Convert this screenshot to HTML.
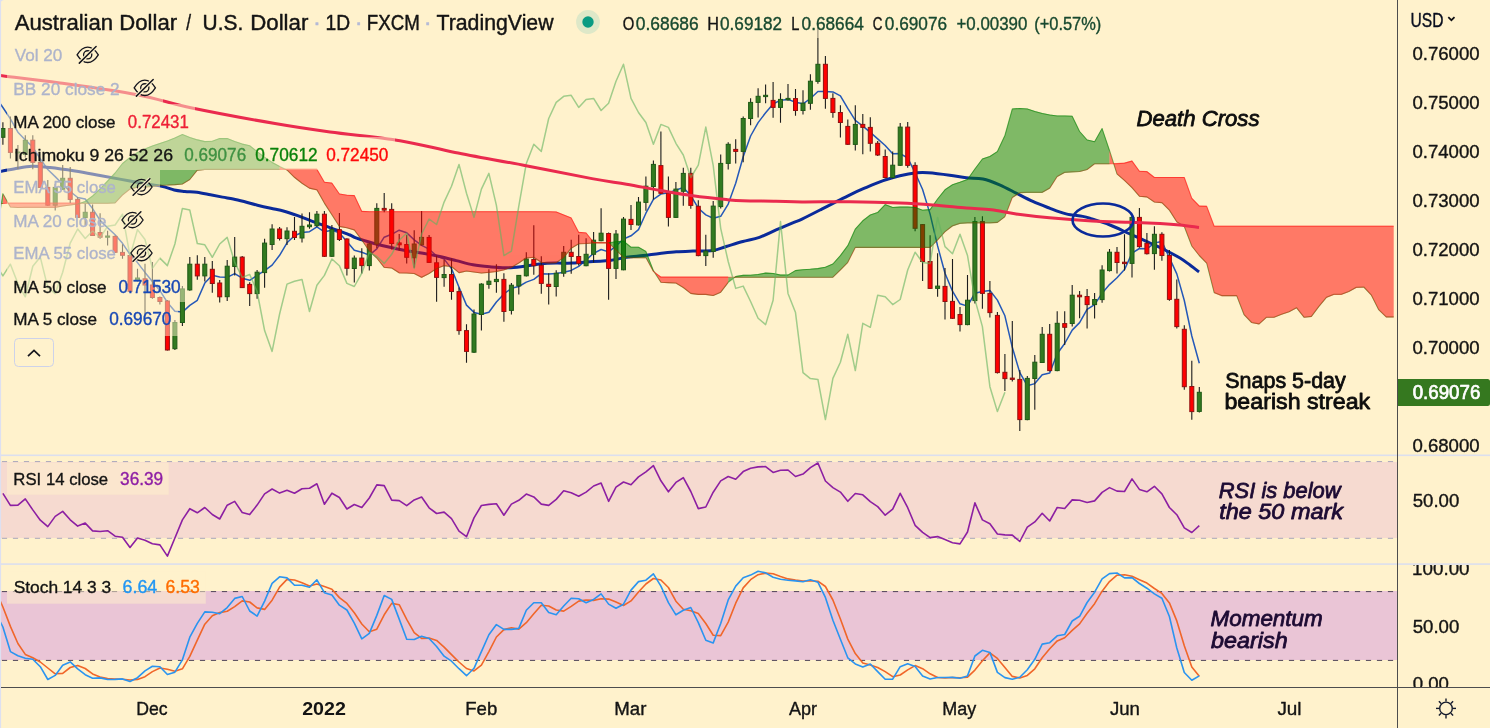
<!DOCTYPE html>
<html lang="en"><head><meta charset="utf-8"><title>AUDUSD chart</title>
<style>
html,body{margin:0;padding:0;}
body{width:1490px;height:728px;overflow:hidden;background:#fff2cc;position:relative;font-family:"Liberation Sans","DejaVu Sans",sans-serif;color:#131722;}

</style></head><body>
<svg width="1490" height="728" viewBox="0 0 1490 728" style="position:absolute;left:0;top:0">
<defs><clipPath id="cm"><rect x="0" y="0" width="1397" height="455"/></clipPath><clipPath id="cr"><rect x="0" y="456" width="1397" height="108"/></clipPath><clipPath id="cs"><rect x="0" y="565" width="1397" height="122"/></clipPath></defs>
<rect x="0" y="462" width="1397" height="76" fill="#f6dad0"/>
<line x1="0" x2="1397" y1="461.6" y2="461.6" stroke="#a9a5bb" stroke-width="1" stroke-dasharray="5.2 5.8" stroke-dashoffset="-1.9"/>
<line x1="0" x2="1397" y1="538.3" y2="538.3" stroke="#a9a5bb" stroke-width="1" stroke-dasharray="5.2 5.8" stroke-dashoffset="-1.9"/>
<rect x="0" y="591" width="1397" height="69" fill="#eac5d6"/>
<line x1="0" x2="1397" y1="591.6" y2="591.6" stroke="#4f4458" stroke-width="1" stroke-dasharray="5.2 5.8" stroke-dashoffset="-1.9"/>
<line x1="0" x2="1397" y1="660.4" y2="660.4" stroke="#4f4458" stroke-width="1" stroke-dasharray="5.2 5.8" stroke-dashoffset="-1.9"/>
<g clip-path="url(#cm)">
<polyline fill="none" stroke="#2458b8" stroke-width="1.5" stroke-linejoin="round" points="-4.6,96.8 2.9,107.5 10.4,118.8 17.9,132.2 25.3,139.9 32.8,147.1 40.3,158.9 47.8,169.5 55.2,176.6 62.7,184.2 70.2,191.5 77.7,197.5 85.2,199 92.6,208.6 100.1,220.4 107.6,227.7 115.1,234.7 122.5,243.3 130,254.4 137.5,262.6 145,272.4 152.4,281.4 159.9,290.6 167.4,302.4 174.9,311.3 182.4,312.1 189.8,305.4 197.3,300.3 204.8,283.1 212.3,275.3 219.7,276.9 227.2,277.3 234.7,273.6 242.2,278.2 249.7,280.3 257.1,275.3 264.6,270.7 272.1,265.1 279.6,255.3 287,242.8 294.5,235.8 302,232.5 309.5,231.7 316.9,226.8 324.4,231.8 331.9,230.3 339.4,232.9 346.9,241.6 354.3,250.3 361.8,252.2 369.3,255.1 376.8,248.9 384.2,237.2 391.7,234.3 399.2,230.2 406.7,232.8 414.2,239.9 421.6,245.4 429.1,249.2 436.6,255.7 444.1,259.1 451.5,268.6 459,287.3 466.5,305.1 474,312.4 481.4,314.3 488.9,312.3 496.4,302 503.9,294 511.4,288.3 518.8,286.5 526.3,282.1 533.8,279.4 541.3,273.7 548.7,274 556.2,273.6 563.7,272.2 571.2,270.4 578.7,266.4 586.1,259.9 593.6,253.3 601.1,249.5 608.6,251.9 616,246 623.5,239 631,235.8 638.5,229.6 645.9,213.2 653.4,199.3 660.9,194.1 668.4,192.7 675.9,190.1 683.3,187.5 690.8,195.7 698.3,208.2 705.8,214.9 713.2,218.3 720.7,216.3 728.2,204.1 735.7,183.3 743.2,156.7 750.6,136 758.1,122.6 765.6,112.8 773.1,104 780.5,100.2 788,99.4 795.5,102.2 803,103.8 810.4,98.5 817.9,91.5 825.4,91.5 832.9,91.9 840.4,95.8 847.8,108.4 855.3,120.4 862.8,126.2 870.3,132.4 877.7,138.9 885.2,145.5 892.7,153.7 900.2,153.6 907.7,158 915.1,172.7 922.6,189.5 930.1,214.1 937.6,245.9 945,273.2 952.5,291.2 960,303.8 967.5,306.1 974.9,293.2 982.4,291.6 989.9,290.5 997.4,300.1 1004.9,315.8 1012.3,347.3 1019.8,372.6 1027.3,385.7 1034.8,383.6 1042.2,374.8 1049.7,373 1057.2,353.8 1064.7,343.5 1072.2,330.1 1079.6,322.6 1087.1,309.4 1094.6,304.7 1102.1,293.2 1109.5,284.6 1117,277.8 1124.5,269.6 1132,253.1 1139.4,248.5 1146.9,248.8 1154.4,243.1 1161.9,241.5 1169.4,257.9 1176.8,273.9 1184.3,300.5 1191.8,336 1199.3,363.3"/>
<path fill="none" stroke="#0a2a9a" stroke-width="3" stroke-linecap="butt" d="M0,171.5C2.7,171 10.7,169.4 16,168.5C21.3,167.6 26.3,166.5 32,166.3C37.7,166.1 42.8,166.7 50,167.5C57.2,168.3 66.7,169.7 75,171C83.3,172.3 90.8,173.8 100,175.5C109.2,177.2 119.9,179.2 130,181C140.1,182.8 153.3,184.6 160.7,186.1C168.1,187.6 170.2,189.1 174.2,190C178.2,190.9 181.1,191 184.9,191.4C188.7,191.8 192.8,191.7 197,192.3C201.2,192.9 206.2,194 210.4,194.8C214.7,195.6 218.7,196.4 222.5,197.1C226.3,197.8 229.6,198.3 233.2,199C236.8,199.7 240,200.5 244,201.5C248,202.5 252.9,204.1 257.4,205.2C261.9,206.3 266.3,207.3 270.8,208.3C275.3,209.3 279.7,210 284.2,211.2C288.7,212.4 293.2,214 297.7,215.6C302.2,217.2 306.6,219.1 311.1,220.8C315.6,222.5 320,224.1 324.5,225.7C329,227.3 333.6,228.8 337.9,230.4C342.1,232 346.9,233.7 350,235C353.1,236.3 352.7,236.8 356.6,238.2C360.5,239.6 367.6,241.7 373.2,243.2C378.8,244.7 384.3,246.1 389.9,247.3C395.4,248.6 401,249.7 406.5,250.7C412,251.7 417.6,252.2 423.1,253.2C428.6,254.2 434.2,255.3 439.7,256.5C445.2,257.7 450.8,259.2 456.3,260.6C461.9,262 467.4,263.8 473,264.8C478.6,265.8 484.1,266.3 489.6,266.8C495.1,267.3 500.7,267.9 506.2,267.8C511.7,267.8 517.3,267.1 522.8,266.5C528.3,265.9 533.8,264.6 539.4,264C545,263.4 550.5,263.2 556.1,263.1C561.7,263 566.5,263.4 572.7,263.1C578.9,262.8 587,261.8 593.2,261.4C599.4,261 604.4,261.3 609.9,260.6C615.4,259.9 621,258.1 626.5,257.3C632,256.5 637.6,256.2 643.1,255.6C648.6,255 654.2,254.1 659.7,253.5C665.2,252.9 670.8,252.2 676.3,251.8C681.8,251.4 686.9,251.3 693,251.1C699.1,250.9 707.4,251.4 712.9,250.6C718.4,249.8 721.2,248 726.2,246.5C731.2,245 737.3,243 742.8,241.5C748.3,240 753.8,239.2 759.4,237.3C765,235.4 770.5,232.3 776.1,229.9C781.7,227.5 788.4,224.7 792.7,222.9C797,221.1 797.5,221.2 802,219.1C806.5,216.9 812,214.1 820,210C828,205.9 842.2,198.6 850,194.8C857.8,191 861.1,189.7 866.6,187.3C872.1,184.9 877.7,182.5 883.2,180.6C888.8,178.7 894.4,177 899.9,175.7C905.4,174.4 911.8,173.3 916.5,172.8C921.2,172.3 922.6,172.3 928.1,172.7C933.6,173.1 943.3,174.3 949.7,175.2C956.1,176 960.8,177.2 966.3,177.8C971.8,178.4 977.5,177.8 983,179C988.5,180.2 994.1,182.5 999.6,184.8C1005.1,187.2 1010.7,190.3 1016.2,193.1C1021.7,195.9 1027.2,198.9 1032.8,201.4C1038.3,203.9 1044,206 1049.5,208.1C1055,210.2 1060.6,212.5 1066.1,213.9C1071.6,215.3 1078.4,215.6 1082.7,216.4C1087,217.2 1087.5,217.5 1092,218.9C1096.5,220.3 1103.7,222.5 1110,225C1116.3,227.5 1123.3,231 1130,234C1136.7,237 1144.2,240.3 1150,243C1155.8,245.7 1160,247.5 1165,250C1170,252.5 1175.8,255.5 1180,258C1184.2,260.5 1186.8,262.7 1190,265C1193.2,267.3 1197.5,270.8 1199,272"/>
<path d="M2.9,122.2V144.8M10.4,116.5V158.5M17.9,145V169.3M25.3,135.2V157.5M32.8,135.2V169.3M40.3,161V188M47.8,180V206M55.2,184V210.6M62.7,165V190M70.2,166.9V203M77.7,197.3V218M85.2,203.8V225.3M92.6,204.5V236M100.1,213.2V238.8M107.6,230.8V245.5M115.1,235.5V253M122.5,244.2V258.7M130,254.5V292M137.5,268.8V281.5M145,263.8V316M152.4,262V298.8M159.9,296.5V304.5M167.4,300V350.5M174.9,320V350M182.4,286V326M189.8,256.9V290.7M197.3,255.2V279.7M204.8,256.9V281.6M212.3,261V292.8M219.7,280.1V302.5M227.2,260V301M234.7,237V275.6M242.2,256V288M249.7,282.2V306M257.1,270V298.8M264.6,238.8V287.8M272.1,224.3V250M279.6,227V240.5M287,227.3V245M294.5,217.1V240M302,213.5V242.5M309.5,212.2V228.8M316.9,211.1V227M324.4,211.1V257M331.9,225V257M339.4,213.1V241M346.9,238.2V275.5M354.3,255.4V282.6M361.8,248.2V273.4M369.3,242.4V270.6M376.8,203.2V248.2M384.2,193V212.3M391.7,203.2V249.5M399.2,234V250.7M406.7,234.9V263.5M414.2,230.2V267.8M421.6,211.1V245.5M429.1,234.9V263M436.6,255.7V301.7M444.1,259.8V286.7M451.5,258.5V299.7M459,287.6V334.8M466.5,324.3V362.7M474,309.4V353M481.4,283.3V330.6M488.9,269.2V288.7M496.4,264.3V292.7M503.9,273.2V321.8M511.4,283.1V314.5M518.8,275V294.6M526.3,252.3V276.5M533.8,225.2V274.7M541.3,256.2V293.8M548.7,273.2V304.6M556.2,270.2V296.6M563.7,246.1V276.7M571.2,239.8V273.8M578.7,234.8V265.4M586.1,238.2V266.2M593.6,232V262.6M601.1,208.3V241.2M608.6,232.5V299.8M616,229.9V278.9M623.5,216.9V270.3M631,204.9V229.9M638.5,197.1V225.4M645.9,176.4V210.7M653.4,160.6V199.6M660.9,131.5V194M668.4,176.4V226.5M675.9,182.1V218M683.3,167.7V205.8M690.8,167.7V208.8M698.3,200.3V256.2M705.8,234.8V265.9M713.2,201.1V257.8M720.7,154.4V208.6M728.2,142.3V169.4M735.7,139.3V163.4M743.2,116.5V162.2M750.6,98.3V125.3M758.1,88.3V117.4M765.6,84.5V103.2M773.1,82.1V117.7M780.5,93.3V122.7M788,84.1V100.7M795.5,89.1V115.8M803,90.2V114.6M810.4,74.2V109.7M817.9,24V83.8M825.4,56V108.8M832.9,93.2V117.7M840.4,105.2V137.6M847.8,119.4V145M855.3,105.2V150.5M862.8,114.1V154.2M870.3,117.2V151.4M877.7,141V156M885.2,149.5V178.5M892.7,151.4V178.5M900.2,122.9V166M907.7,122.1V167.7M915.1,162.3V231.2M922.6,224V280.9M930.1,235.2V289M937.6,253.2V296.7M945,268.1V319.6M952.5,259V319M960,307.1V331.6M967.5,275.1V325.2M974.9,217.1V303.4M982.4,216.3V308.8M989.9,281.1V317.6M997.4,312.1V373.4M1004.9,354V390.9M1012.3,321.1V381.6M1019.8,370V430.9M1027.3,376.1V420.2M1034.8,355V409.8M1042.2,326.9V363M1049.7,324.1V371.5M1057.2,311.3V371.2M1064.7,311.2V345M1072.2,285V326.5M1079.6,291V318.3M1087.1,289.1V328.6M1094.6,293.1V318.5M1102.1,265.2V302.7M1109.5,249V271.5M1117,247.1V273.4M1124.5,234.3V270.4M1132,215.4V277.4M1139.4,208V247.8M1146.9,233V254.6M1154.4,226.2V269.7M1161.9,232.2V260.7M1169.4,250V300.7M1176.8,279.5V328.4M1184.3,325.3V389.7M1191.8,360.7V419.7M1199.3,387.1V412.5" stroke="#1c1c1c" stroke-width="1.1" fill="none"/>
<rect x="0.9" y="128.5" width="4" height="8.8" fill="#327a20" stroke="#1f5a16" stroke-width="1"/>
<rect x="8.4" y="128.5" width="4" height="23.9" fill="#ff0000" stroke="#8f1111" stroke-width="1"/>
<rect x="15.9" y="152" width="4" height="1" fill="#327a20" stroke="#1f5a16" stroke-width="1"/>
<rect x="23.3" y="140.3" width="4" height="14.2" fill="#327a20" stroke="#1f5a16" stroke-width="1"/>
<rect x="30.8" y="140.2" width="4" height="22.2" fill="#ff0000" stroke="#8f1111" stroke-width="1"/>
<rect x="38.3" y="162.5" width="4" height="24.9" fill="#ff0000" stroke="#8f1111" stroke-width="1"/>
<rect x="45.8" y="187.4" width="4" height="17.8" fill="#ff0000" stroke="#8f1111" stroke-width="1"/>
<rect x="53.2" y="187.4" width="4" height="17.8" fill="#327a20" stroke="#1f5a16" stroke-width="1"/>
<rect x="60.7" y="178.3" width="4" height="10.9" fill="#327a20" stroke="#1f5a16" stroke-width="1"/>
<rect x="68.2" y="178.3" width="4" height="21.1" fill="#ff0000" stroke="#8f1111" stroke-width="1"/>
<rect x="75.7" y="199.4" width="4" height="18" fill="#ff0000" stroke="#8f1111" stroke-width="1"/>
<rect x="83.2" y="212.3" width="4" height="5.3" fill="#327a20" stroke="#1f5a16" stroke-width="1"/>
<rect x="90.6" y="212.3" width="4" height="23.2" fill="#ff0000" stroke="#8f1111" stroke-width="1"/>
<rect x="98.1" y="232.5" width="4" height="4.7" fill="#ff0000" stroke="#8f1111" stroke-width="1"/>
<rect x="105.6" y="236" width="4" height="1.2" fill="#327a20" stroke="#1f5a16" stroke-width="1"/>
<rect x="113.1" y="236.4" width="4" height="15.9" fill="#ff0000" stroke="#8f1111" stroke-width="1"/>
<rect x="120.5" y="252.4" width="4" height="2.9" fill="#ff0000" stroke="#8f1111" stroke-width="1"/>
<rect x="128" y="255.5" width="4" height="35.8" fill="#ff0000" stroke="#8f1111" stroke-width="1"/>
<rect x="135.5" y="278" width="4" height="2.5" fill="#327a20" stroke="#1f5a16" stroke-width="1"/>
<rect x="143" y="278.8" width="4" height="6.2" fill="#ff0000" stroke="#8f1111" stroke-width="1"/>
<rect x="150.4" y="285" width="4" height="12.5" fill="#ff0000" stroke="#8f1111" stroke-width="1"/>
<rect x="157.9" y="297.5" width="4" height="4" fill="#ff0000" stroke="#8f1111" stroke-width="1"/>
<rect x="165.4" y="301" width="4" height="49" fill="#ff0000" stroke="#8f1111" stroke-width="1"/>
<rect x="172.9" y="322.5" width="4" height="26.2" fill="#327a20" stroke="#1f5a16" stroke-width="1"/>
<rect x="180.4" y="288.9" width="4" height="33.6" fill="#327a20" stroke="#1f5a16" stroke-width="1"/>
<rect x="187.8" y="264.2" width="4" height="25.7" fill="#327a20" stroke="#1f5a16" stroke-width="1"/>
<rect x="195.3" y="264.2" width="4" height="11.7" fill="#ff0000" stroke="#8f1111" stroke-width="1"/>
<rect x="202.8" y="264.2" width="4" height="11.7" fill="#327a20" stroke="#1f5a16" stroke-width="1"/>
<rect x="210.3" y="269.3" width="4" height="14.2" fill="#ff0000" stroke="#8f1111" stroke-width="1"/>
<rect x="217.7" y="283" width="4" height="13.8" fill="#ff0000" stroke="#8f1111" stroke-width="1"/>
<rect x="225.2" y="266.2" width="4" height="30.5" fill="#327a20" stroke="#1f5a16" stroke-width="1"/>
<rect x="232.7" y="257.1" width="4" height="9.4" fill="#327a20" stroke="#1f5a16" stroke-width="1"/>
<rect x="240.2" y="257.1" width="4" height="30.5" fill="#ff0000" stroke="#8f1111" stroke-width="1"/>
<rect x="247.7" y="284.4" width="4" height="9.2" fill="#ff0000" stroke="#8f1111" stroke-width="1"/>
<rect x="255.1" y="272.2" width="4" height="21.4" fill="#327a20" stroke="#1f5a16" stroke-width="1"/>
<rect x="262.6" y="243.1" width="4" height="29.5" fill="#327a20" stroke="#1f5a16" stroke-width="1"/>
<rect x="270.1" y="229" width="4" height="15.5" fill="#327a20" stroke="#1f5a16" stroke-width="1"/>
<rect x="277.6" y="229" width="4" height="9.5" fill="#ff0000" stroke="#8f1111" stroke-width="1"/>
<rect x="285" y="231" width="4" height="7.7" fill="#327a20" stroke="#1f5a16" stroke-width="1"/>
<rect x="292.5" y="231.3" width="4" height="6.2" fill="#ff0000" stroke="#8f1111" stroke-width="1"/>
<rect x="300" y="226.3" width="4" height="11.7" fill="#327a20" stroke="#1f5a16" stroke-width="1"/>
<rect x="307.5" y="225" width="4" height="1.7" fill="#327a20" stroke="#1f5a16" stroke-width="1"/>
<rect x="314.9" y="214.2" width="4" height="11.5" fill="#327a20" stroke="#1f5a16" stroke-width="1"/>
<rect x="322.4" y="214.2" width="4" height="42.1" fill="#ff0000" stroke="#8f1111" stroke-width="1"/>
<rect x="329.9" y="229.6" width="4" height="26.7" fill="#327a20" stroke="#1f5a16" stroke-width="1"/>
<rect x="337.4" y="229.7" width="4" height="9.8" fill="#ff0000" stroke="#8f1111" stroke-width="1"/>
<rect x="344.9" y="239" width="4" height="29.3" fill="#ff0000" stroke="#8f1111" stroke-width="1"/>
<rect x="352.3" y="258.1" width="4" height="10.4" fill="#327a20" stroke="#1f5a16" stroke-width="1"/>
<rect x="359.8" y="258.1" width="4" height="7.5" fill="#ff0000" stroke="#8f1111" stroke-width="1"/>
<rect x="367.3" y="244" width="4" height="21.6" fill="#327a20" stroke="#1f5a16" stroke-width="1"/>
<rect x="374.8" y="208.4" width="4" height="35.6" fill="#327a20" stroke="#1f5a16" stroke-width="1"/>
<rect x="382.2" y="208.4" width="4" height="1.7" fill="#ff0000" stroke="#8f1111" stroke-width="1"/>
<rect x="389.7" y="209.4" width="4" height="34.1" fill="#ff0000" stroke="#8f1111" stroke-width="1"/>
<rect x="397.2" y="242.9" width="4" height="1.9" fill="#ff0000" stroke="#8f1111" stroke-width="1"/>
<rect x="404.7" y="244.5" width="4" height="12.8" fill="#ff0000" stroke="#8f1111" stroke-width="1"/>
<rect x="412.2" y="244" width="4" height="13.8" fill="#327a20" stroke="#1f5a16" stroke-width="1"/>
<rect x="419.6" y="237.4" width="4" height="7.4" fill="#327a20" stroke="#1f5a16" stroke-width="1"/>
<rect x="427.1" y="237.4" width="4" height="25" fill="#ff0000" stroke="#8f1111" stroke-width="1"/>
<rect x="434.6" y="262.8" width="4" height="14.6" fill="#ff0000" stroke="#8f1111" stroke-width="1"/>
<rect x="442.1" y="274.5" width="4" height="3.1" fill="#327a20" stroke="#1f5a16" stroke-width="1"/>
<rect x="449.5" y="274.5" width="4" height="17" fill="#ff0000" stroke="#8f1111" stroke-width="1"/>
<rect x="457" y="291.6" width="4" height="39" fill="#ff0000" stroke="#8f1111" stroke-width="1"/>
<rect x="464.5" y="330.6" width="4" height="20.8" fill="#ff0000" stroke="#8f1111" stroke-width="1"/>
<rect x="472" y="314" width="4" height="38.2" fill="#327a20" stroke="#1f5a16" stroke-width="1"/>
<rect x="479.4" y="284.1" width="4" height="30.4" fill="#327a20" stroke="#1f5a16" stroke-width="1"/>
<rect x="486.9" y="281.2" width="4" height="3.2" fill="#327a20" stroke="#1f5a16" stroke-width="1"/>
<rect x="494.4" y="279.4" width="4" height="2.2" fill="#327a20" stroke="#1f5a16" stroke-width="1"/>
<rect x="501.9" y="279.4" width="4" height="32.1" fill="#ff0000" stroke="#8f1111" stroke-width="1"/>
<rect x="509.4" y="285.2" width="4" height="25.2" fill="#327a20" stroke="#1f5a16" stroke-width="1"/>
<rect x="516.8" y="275.4" width="4" height="10.5" fill="#327a20" stroke="#1f5a16" stroke-width="1"/>
<rect x="524.3" y="259" width="4" height="16.8" fill="#327a20" stroke="#1f5a16" stroke-width="1"/>
<rect x="531.8" y="259.5" width="4" height="6.2" fill="#ff0000" stroke="#8f1111" stroke-width="1"/>
<rect x="539.3" y="265.3" width="4" height="18.1" fill="#ff0000" stroke="#8f1111" stroke-width="1"/>
<rect x="546.7" y="284.3" width="4" height="2.2" fill="#ff0000" stroke="#8f1111" stroke-width="1"/>
<rect x="554.2" y="273.2" width="4" height="13.3" fill="#327a20" stroke="#1f5a16" stroke-width="1"/>
<rect x="561.7" y="252.3" width="4" height="20.9" fill="#327a20" stroke="#1f5a16" stroke-width="1"/>
<rect x="569.2" y="252.3" width="4" height="4.2" fill="#ff0000" stroke="#8f1111" stroke-width="1"/>
<rect x="576.7" y="256.5" width="4" height="6.9" fill="#ff0000" stroke="#8f1111" stroke-width="1"/>
<rect x="584.1" y="254.3" width="4" height="11.4" fill="#327a20" stroke="#1f5a16" stroke-width="1"/>
<rect x="591.6" y="240.2" width="4" height="14.1" fill="#327a20" stroke="#1f5a16" stroke-width="1"/>
<rect x="599.1" y="233.2" width="4" height="7.5" fill="#327a20" stroke="#1f5a16" stroke-width="1"/>
<rect x="606.6" y="233.5" width="4" height="34.9" fill="#ff0000" stroke="#8f1111" stroke-width="1"/>
<rect x="614" y="234" width="4" height="34.4" fill="#327a20" stroke="#1f5a16" stroke-width="1"/>
<rect x="621.5" y="219.1" width="4" height="50.7" fill="#327a20" stroke="#1f5a16" stroke-width="1"/>
<rect x="629" y="219.4" width="4" height="5.1" fill="#ff0000" stroke="#8f1111" stroke-width="1"/>
<rect x="636.5" y="202.1" width="4" height="22.8" fill="#327a20" stroke="#1f5a16" stroke-width="1"/>
<rect x="643.9" y="186.2" width="4" height="16.2" fill="#327a20" stroke="#1f5a16" stroke-width="1"/>
<rect x="651.4" y="164.4" width="4" height="22.1" fill="#327a20" stroke="#1f5a16" stroke-width="1"/>
<rect x="658.9" y="165.6" width="4" height="27.7" fill="#ff0000" stroke="#8f1111" stroke-width="1"/>
<rect x="666.4" y="193.3" width="4" height="24.1" fill="#ff0000" stroke="#8f1111" stroke-width="1"/>
<rect x="673.9" y="189.1" width="4" height="28.3" fill="#327a20" stroke="#1f5a16" stroke-width="1"/>
<rect x="681.3" y="173.4" width="4" height="17.9" fill="#327a20" stroke="#1f5a16" stroke-width="1"/>
<rect x="688.8" y="173.4" width="4" height="32" fill="#ff0000" stroke="#8f1111" stroke-width="1"/>
<rect x="696.3" y="206.3" width="4" height="49.3" fill="#ff0000" stroke="#8f1111" stroke-width="1"/>
<rect x="703.8" y="251.1" width="4" height="4.5" fill="#327a20" stroke="#1f5a16" stroke-width="1"/>
<rect x="711.2" y="206.1" width="4" height="45.4" fill="#327a20" stroke="#1f5a16" stroke-width="1"/>
<rect x="718.7" y="163.4" width="4" height="43.2" fill="#327a20" stroke="#1f5a16" stroke-width="1"/>
<rect x="726.2" y="144.3" width="4" height="19.1" fill="#327a20" stroke="#1f5a16" stroke-width="1"/>
<rect x="733.7" y="149.4" width="4" height="2" fill="#ff0000" stroke="#8f1111" stroke-width="1"/>
<rect x="741.2" y="118.5" width="4" height="32.9" fill="#327a20" stroke="#1f5a16" stroke-width="1"/>
<rect x="748.6" y="102.4" width="4" height="16.1" fill="#327a20" stroke="#1f5a16" stroke-width="1"/>
<rect x="756.1" y="96.3" width="4" height="6.1" fill="#327a20" stroke="#1f5a16" stroke-width="1"/>
<rect x="763.6" y="95.3" width="4" height="1.3" fill="#327a20" stroke="#1f5a16" stroke-width="1"/>
<rect x="771.1" y="100.4" width="4" height="7" fill="#ff0000" stroke="#8f1111" stroke-width="1"/>
<rect x="778.5" y="99.4" width="4" height="8" fill="#327a20" stroke="#1f5a16" stroke-width="1"/>
<rect x="786" y="98.4" width="4" height="1.4" fill="#327a20" stroke="#1f5a16" stroke-width="1"/>
<rect x="793.5" y="98.6" width="4" height="11.9" fill="#ff0000" stroke="#8f1111" stroke-width="1"/>
<rect x="801" y="103.2" width="4" height="7.3" fill="#327a20" stroke="#1f5a16" stroke-width="1"/>
<rect x="808.4" y="81.2" width="4" height="22.1" fill="#327a20" stroke="#1f5a16" stroke-width="1"/>
<rect x="815.9" y="64.3" width="4" height="17.1" fill="#327a20" stroke="#1f5a16" stroke-width="1"/>
<rect x="823.4" y="64.3" width="4" height="34.1" fill="#ff0000" stroke="#8f1111" stroke-width="1"/>
<rect x="830.9" y="98.4" width="4" height="14.1" fill="#ff0000" stroke="#8f1111" stroke-width="1"/>
<rect x="838.4" y="112.5" width="4" height="10" fill="#ff0000" stroke="#8f1111" stroke-width="1"/>
<rect x="845.8" y="126.4" width="4" height="17.9" fill="#ff0000" stroke="#8f1111" stroke-width="1"/>
<rect x="853.3" y="124.4" width="4" height="20" fill="#327a20" stroke="#1f5a16" stroke-width="1"/>
<rect x="860.8" y="124.4" width="4" height="3" fill="#ff0000" stroke="#8f1111" stroke-width="1"/>
<rect x="868.3" y="127.4" width="4" height="15.9" fill="#ff0000" stroke="#8f1111" stroke-width="1"/>
<rect x="875.7" y="143.3" width="4" height="11.7" fill="#ff0000" stroke="#8f1111" stroke-width="1"/>
<rect x="883.2" y="156.5" width="4" height="21" fill="#ff0000" stroke="#8f1111" stroke-width="1"/>
<rect x="890.7" y="165.2" width="4" height="12.4" fill="#327a20" stroke="#1f5a16" stroke-width="1"/>
<rect x="898.2" y="127.1" width="4" height="38.2" fill="#327a20" stroke="#1f5a16" stroke-width="1"/>
<rect x="905.7" y="127.1" width="4" height="38.3" fill="#ff0000" stroke="#8f1111" stroke-width="1"/>
<rect x="913.1" y="165.4" width="4" height="62.9" fill="#ff0000" stroke="#8f1111" stroke-width="1"/>
<rect x="920.6" y="224.6" width="4" height="36.9" fill="#ff0000" stroke="#8f1111" stroke-width="1"/>
<rect x="928.1" y="261.5" width="4" height="26.9" fill="#ff0000" stroke="#8f1111" stroke-width="1"/>
<rect x="935.6" y="286.1" width="4" height="2.3" fill="#327a20" stroke="#1f5a16" stroke-width="1"/>
<rect x="943" y="286.4" width="4" height="15.1" fill="#ff0000" stroke="#8f1111" stroke-width="1"/>
<rect x="950.5" y="301.4" width="4" height="16.9" fill="#ff0000" stroke="#8f1111" stroke-width="1"/>
<rect x="958" y="314.5" width="4" height="10.1" fill="#ff0000" stroke="#8f1111" stroke-width="1"/>
<rect x="965.5" y="300.2" width="4" height="24.4" fill="#327a20" stroke="#1f5a16" stroke-width="1"/>
<rect x="972.9" y="221.6" width="4" height="79" fill="#327a20" stroke="#1f5a16" stroke-width="1"/>
<rect x="980.4" y="221.6" width="4" height="71.8" fill="#ff0000" stroke="#8f1111" stroke-width="1"/>
<rect x="987.9" y="293.4" width="4" height="19.2" fill="#ff0000" stroke="#8f1111" stroke-width="1"/>
<rect x="995.4" y="315.4" width="4" height="57.2" fill="#ff0000" stroke="#8f1111" stroke-width="1"/>
<rect x="1002.9" y="372.3" width="4" height="6.3" fill="#ff0000" stroke="#8f1111" stroke-width="1"/>
<rect x="1010.3" y="378.1" width="4" height="1.3" fill="#ff0000" stroke="#8f1111" stroke-width="1"/>
<rect x="1017.8" y="379.4" width="4" height="40.2" fill="#ff0000" stroke="#8f1111" stroke-width="1"/>
<rect x="1025.3" y="378.4" width="4" height="41.2" fill="#327a20" stroke="#1f5a16" stroke-width="1"/>
<rect x="1032.8" y="362.2" width="4" height="16.3" fill="#327a20" stroke="#1f5a16" stroke-width="1"/>
<rect x="1040.2" y="334.3" width="4" height="28.2" fill="#327a20" stroke="#1f5a16" stroke-width="1"/>
<rect x="1047.7" y="334.3" width="4" height="36.3" fill="#ff0000" stroke="#8f1111" stroke-width="1"/>
<rect x="1055.2" y="323.3" width="4" height="47.3" fill="#327a20" stroke="#1f5a16" stroke-width="1"/>
<rect x="1062.7" y="323.6" width="4" height="3.7" fill="#ff0000" stroke="#8f1111" stroke-width="1"/>
<rect x="1070.2" y="295.2" width="4" height="28.3" fill="#327a20" stroke="#1f5a16" stroke-width="1"/>
<rect x="1077.6" y="295.2" width="4" height="1.6" fill="#ff0000" stroke="#8f1111" stroke-width="1"/>
<rect x="1085.1" y="296.5" width="4" height="8.1" fill="#ff0000" stroke="#8f1111" stroke-width="1"/>
<rect x="1092.6" y="299.5" width="4" height="5.1" fill="#327a20" stroke="#1f5a16" stroke-width="1"/>
<rect x="1100.1" y="270" width="4" height="29.6" fill="#327a20" stroke="#1f5a16" stroke-width="1"/>
<rect x="1107.5" y="252.2" width="4" height="18.4" fill="#327a20" stroke="#1f5a16" stroke-width="1"/>
<rect x="1115" y="252.3" width="4" height="10.2" fill="#ff0000" stroke="#8f1111" stroke-width="1"/>
<rect x="1122.5" y="262.2" width="4" height="1.4" fill="#ff0000" stroke="#8f1111" stroke-width="1"/>
<rect x="1130" y="217.4" width="4" height="46" fill="#327a20" stroke="#1f5a16" stroke-width="1"/>
<rect x="1137.4" y="217.4" width="4" height="29.2" fill="#ff0000" stroke="#8f1111" stroke-width="1"/>
<rect x="1144.9" y="243.3" width="4" height="10.4" fill="#ff0000" stroke="#8f1111" stroke-width="1"/>
<rect x="1152.4" y="234.3" width="4" height="19.3" fill="#327a20" stroke="#1f5a16" stroke-width="1"/>
<rect x="1159.9" y="234.3" width="4" height="21.2" fill="#ff0000" stroke="#8f1111" stroke-width="1"/>
<rect x="1167.4" y="255.5" width="4" height="43.9" fill="#ff0000" stroke="#8f1111" stroke-width="1"/>
<rect x="1174.8" y="299.3" width="4" height="27.3" fill="#ff0000" stroke="#8f1111" stroke-width="1"/>
<rect x="1182.3" y="329.3" width="4" height="57.4" fill="#ff0000" stroke="#8f1111" stroke-width="1"/>
<rect x="1189.8" y="386.5" width="4" height="25.1" fill="#ff0000" stroke="#8f1111" stroke-width="1"/>
<rect x="1197.3" y="392.3" width="4" height="19.1" fill="#327a20" stroke="#1f5a16" stroke-width="1"/>
<polyline fill="none" stroke="#008000" stroke-width="1.1" stroke-opacity="0.55" stroke-linejoin="round" points="-4.6,240 2.9,193.7 10.4,207 17.9,207.5 25.3,207.3 32.8,207.3 40.3,207.3 47.8,207.3 55.2,207.3 62.7,206 70.2,205 77.7,204 85.2,201.5 92.6,196 100.1,189 107.6,181 115.1,173 122.5,163.5 130,157.5 137.5,152.5 145,149 152.4,146 159.9,143.5 167.4,141 174.9,138 182.4,134.6 189.8,137.5 197.3,139.9 204.8,141.6 212.3,141.3 219.7,138.6 227.2,138.6 234.7,141.6 242.2,144.1 249.7,145.8 257.1,151.6 264.6,157.4 272.1,162.4 279.6,166.5 287,169.9 294.5,177.3 302,183.2 309.5,188.1 316.9,189.8 324.4,203.1 331.9,214.7 339.4,226.4 346.9,227.7 354.3,229.9 361.8,240 369.3,251 376.8,258 384.2,267.3 391.7,268 399.2,272.8 406.7,273 414.2,273.5 421.6,277.3 429.1,273.5 436.6,268.5 444.1,265.6 451.5,266.5 459,272.6 466.5,271 474,272 481.4,273 488.9,272.3 496.4,271.5 503.9,269.8 511.4,267.3 518.8,263 526.3,257.8 533.8,257.3 541.3,262.3 548.7,263 556.2,262.6 563.7,257.5 571.2,248.2 578.7,243.7 586.1,243.5 593.6,242.8 601.1,242.8 608.6,242.8 616,241.8 623.5,241.2 631,247.3 638.5,247.3 645.9,251.5 653.4,270.6 660.9,282.2 668.4,282.6 675.9,283 683.3,287.5 690.8,293.4 698.3,294.4 705.8,294.4 713.2,295.5 720.7,292.2 728.2,282.3 735.7,276.6 743.2,275.4 750.6,275.3 758.1,274.5 765.6,273.1 773.1,273.5 780.5,275.1 788,275.1 795.5,270.6 803,269.8 810.4,269.3 817.9,268.6 825.4,267.3 832.9,264 840.4,255.7 847.8,245.7 855.3,229.1 862.8,220.8 870.3,215 877.7,212.5 885.2,204.7 892.7,207.5 900.2,207.1 907.7,207.1 915.1,207.5 922.6,210.3 930.1,209.6 937.6,199 945,189.8 952.5,184.8 960,182.3 967.5,179.5 974.9,169 982.4,159 989.9,156.5 997.4,151.6 1004.9,135.5 1012.3,109 1019.8,108.5 1027.3,109 1034.8,111.5 1042.2,113.5 1049.7,115 1057.2,116 1064.7,116 1072.2,116.2 1079.6,131.5 1087.1,140 1094.6,141.8 1102.1,128.6 1109.5,150.5 1117,173.9 1124.5,180.3 1132,187.7 1139.4,196.2 1146.9,196.9 1154.4,202 1161.9,202.6 1169.4,210.1 1176.8,221.8 1184.3,226.5 1191.8,246 1199.3,255.5 1206.7,263.2 1214.2,292.6 1221.7,295.6 1229.2,295.6 1236.7,295.6 1244.1,314.7 1251.6,322.5 1259.1,323.9 1266.6,317.2 1274,317.2 1281.5,314.2 1289,311.7 1296.5,307.7 1304,317.2 1311.4,316.4 1318.9,306.4 1326.4,297.3 1333.9,294.3 1341.3,294.3 1348.8,291.4 1356.3,287.3 1363.8,287 1371.2,294.8 1378.7,309.7 1386.2,316.9 1393.7,316.9"/>
<polyline fill="none" stroke="#ff0000" stroke-width="1.1" stroke-opacity="0.5" stroke-linejoin="round" points="-4.6,203.5 2.9,203.5 10.4,203.2 17.9,203.2 25.3,203.2 32.8,203.2 40.3,203.2 47.8,203.2 55.2,203.2 62.7,203.2 70.2,203.2 77.7,203.2 85.2,203.2 92.6,203.2 100.1,203.2 107.6,203.2 115.1,202.8 122.5,195 130,189 137.5,187.2 145,187 152.4,186.5 159.9,185.2 167.4,185 174.9,184.6 182.4,184 189.8,179.5 197.3,170.2 204.8,169.4 212.3,169.4 219.7,169.4 227.2,169.4 234.7,169.4 242.2,169.4 249.7,169.4 257.1,169.4 264.6,169.4 272.1,169.4 279.6,169.4 287,169.4 294.5,169.4 302,169.4 309.5,169.4 316.9,169.4 324.4,182.3 331.9,183.2 339.4,194 346.9,195.3 354.3,195.6 361.8,211.4 369.3,211.8 376.8,211.8 384.2,211.8 391.7,211.8 399.2,211.8 406.7,211.8 414.2,211.8 421.6,211.8 429.1,211.8 436.6,211.8 444.1,211.8 451.5,211.8 459,211.8 466.5,211.8 474,211.8 481.4,211.8 488.9,211.8 496.4,211.8 503.9,211.8 511.4,211.8 518.8,211.8 526.3,211.8 533.8,211.8 541.3,211.8 548.7,211.8 556.2,212 563.7,215 571.2,218 578.7,232.4 586.1,233 593.6,242.5 601.1,242.8 608.6,242.8 616,249.8 623.5,257.3 631,257.6 638.5,257.6 645.9,257.6 653.4,271.4 660.9,277.2 668.4,277.2 675.9,277.2 683.3,277.2 690.8,277.2 698.3,277.2 705.8,277.2 713.2,277.2 720.7,277.2 728.2,277.2 735.7,277.2 743.2,277.2 750.6,277.2 758.1,277.2 765.6,277.2 773.1,277.2 780.5,277.2 788,277.2 795.5,277.2 803,277.2 810.4,277.2 817.9,277.2 825.4,277.2 832.9,277.2 840.4,269.8 847.8,262.3 855.3,247.4 862.8,247.4 870.3,247.4 877.7,247.4 885.2,247.4 892.7,247.4 900.2,247.4 907.7,247.4 915.1,247.4 922.6,247.4 930.1,247.4 937.6,239.9 945,231.6 952.5,225.8 960,223.3 967.5,222.8 974.9,222.8 982.4,222.8 989.9,222.8 997.4,222.4 1004.9,216.6 1012.3,197.5 1019.8,192.6 1027.3,192.3 1034.8,192.3 1042.2,192.3 1049.7,188.1 1057.2,176.5 1064.7,172.3 1072.2,171.8 1079.6,171.5 1087.1,169.5 1094.6,163.7 1102.1,163.7 1109.5,163.7 1117,163.7 1124.5,163.2 1132,161.1 1139.4,171.3 1146.9,171.7 1154.4,177.5 1161.9,177.5 1169.4,177.5 1176.8,177.5 1184.3,177.5 1191.8,198.4 1199.3,206.2 1206.7,206.4 1214.2,226.3 1221.7,226.3 1229.2,226.3 1236.7,226.3 1244.1,226.3 1251.6,226.3 1259.1,226.3 1266.6,226.3 1274,226.3 1281.5,226.3 1289,226.3 1296.5,226.3 1304,226.3 1311.4,226.3 1318.9,226.3 1326.4,226.3 1333.9,226.3 1341.3,226.3 1348.8,226.3 1356.3,226.3 1363.8,226.3 1371.2,226.3 1378.7,226.3 1386.2,226.3 1393.7,226.3"/>
<g opacity="0.5" fill="#008000">
<polygon points="-4.6,240 2.9,193.1 2.9,204.1 -4.6,203.5"/>
<polygon points="77.7,204 85.2,200.9 92.6,195.4 100.1,188.4 107.6,180.4 115.1,172.4 122.5,162.9 130,156.9 137.5,151.9 145,148.4 152.4,145.4 159.9,142.9 167.4,140.4 174.9,137.4 182.4,134 189.8,136.9 197.3,139.3 204.8,141 212.3,140.8 219.7,138 227.2,138 234.7,141 242.2,143.5 249.7,145.2 257.1,151 264.6,156.8 272.1,161.8 279.6,165.9 279.6,170 272.1,170 264.6,170 257.1,170 249.7,170 242.2,170 234.7,170 227.2,170 219.7,170 212.3,170 204.8,170 197.3,170.8 189.8,180.1 182.4,184.6 174.9,185.2 167.4,185.6 159.9,185.8 152.4,187.1 145,187.6 137.5,187.8 130,189.6 122.5,195.6 115.1,203.4 107.6,203.8 100.1,203.8 92.6,203.8 85.2,203.8 77.7,203.2"/>
<polygon points="608.6,242.8 616,241.2 623.5,240.6 631,246.8 638.5,246.8 645.9,250.9 653.4,270.1 653.4,271.9 645.9,258.2 638.5,258.2 631,258.2 623.5,257.9 616,250.4 608.6,242.8"/>
<polygon points="728.2,282.3 735.7,276.1 743.2,274.8 750.6,274.8 758.1,273.9 765.6,272.6 773.1,272.9 780.5,274.6 788,274.6 795.5,270.1 803,269.2 810.4,268.8 817.9,268.1 825.4,266.8 832.9,263.4 840.4,255.1 847.8,245.1 855.3,228.5 862.8,220.2 870.3,214.4 877.7,211.9 885.2,204.1 892.7,206.9 900.2,206.5 907.7,206.5 915.1,206.9 922.6,209.8 930.1,209 937.6,198.4 945,189.2 952.5,184.2 960,181.8 967.5,178.9 974.9,168.4 982.4,158.4 989.9,155.9 997.4,151 1004.9,134.9 1012.3,108.5 1019.8,108 1027.3,108.5 1034.8,111 1042.2,113 1049.7,114.5 1057.2,115.5 1064.7,115.5 1072.2,115.7 1079.6,130.9 1087.1,139.4 1094.6,141.2 1102.1,128 1109.5,149.9 1109.5,164.2 1102.1,164.2 1094.6,164.2 1087.1,170.1 1079.6,172.1 1072.2,172.4 1064.7,172.9 1057.2,177.1 1049.7,188.7 1042.2,192.9 1034.8,192.9 1027.3,192.9 1019.8,193.2 1012.3,198.1 1004.9,217.2 997.4,223 989.9,223.4 982.4,223.4 974.9,223.4 967.5,223.4 960,223.9 952.5,226.4 945,232.2 937.6,240.5 930.1,248 922.6,248 915.1,248 907.7,248 900.2,248 892.7,248 885.2,248 877.7,248 870.3,248 862.8,248 855.3,248 847.8,262.9 840.4,270.4 832.9,277.8 825.4,277.8 817.9,277.8 810.4,277.8 803,277.8 795.5,277.8 788,277.8 780.5,277.8 773.1,277.8 765.6,277.8 758.1,277.8 750.6,277.8 743.2,277.8 735.7,277.8 728.2,277.2"/>
</g>
<g opacity="0.5" fill="#ff0000">
<polygon points="2.9,193.7 10.4,207.6 17.9,208.1 25.3,207.9 32.8,207.9 40.3,207.9 47.8,207.9 55.2,207.9 62.7,206.6 70.2,205.6 77.7,204.6 77.7,202.6 70.2,202.6 62.7,202.6 55.2,202.6 47.8,202.6 40.3,202.6 32.8,202.6 25.3,202.6 17.9,202.6 10.4,202.6 2.9,203.5"/>
<polygon points="279.6,166.5 287,170.5 294.5,177.9 302,183.8 309.5,188.7 316.9,190.4 324.4,203.7 331.9,215.2 339.4,227 346.9,228.2 354.3,230.5 361.8,240.6 369.3,251.6 376.8,258.6 384.2,267.9 391.7,268.6 399.2,273.4 406.7,273.6 414.2,274.1 421.6,277.9 429.1,274.1 436.6,269.1 444.1,266.2 451.5,267.1 459,273.2 466.5,271.6 474,272.6 481.4,273.6 488.9,272.9 496.4,272.1 503.9,270.4 511.4,267.9 518.8,263.6 526.3,258.4 533.8,257.9 541.3,262.9 548.7,263.6 556.2,263.2 563.7,258.1 571.2,248.8 578.7,244.2 586.1,244.1 593.6,243.4 601.1,243.4 608.6,243.4 608.6,242.2 601.1,242.2 593.6,241.9 586.1,232.4 578.7,231.8 571.2,217.4 563.7,214.4 556.2,211.4 548.7,211.2 541.3,211.2 533.8,211.2 526.3,211.2 518.8,211.2 511.4,211.2 503.9,211.2 496.4,211.2 488.9,211.2 481.4,211.2 474,211.2 466.5,211.2 459,211.2 451.5,211.2 444.1,211.2 436.6,211.2 429.1,211.2 421.6,211.2 414.2,211.2 406.7,211.2 399.2,211.2 391.7,211.2 384.2,211.2 376.8,211.2 369.3,211.2 361.8,210.8 354.3,195 346.9,194.8 339.4,193.4 331.9,182.6 324.4,181.8 316.9,168.8 309.5,168.8 302,168.8 294.5,168.8 287,168.8 279.6,169.4"/>
<polygon points="653.4,270.6 660.9,282.8 668.4,283.2 675.9,283.6 683.3,288.1 690.8,293.9 698.3,294.9 705.8,294.9 713.2,296.1 720.7,292.8 728.2,282.9 728.2,276.6 720.7,276.6 713.2,276.6 705.8,276.6 698.3,276.6 690.8,276.6 683.3,276.6 675.9,276.6 668.4,276.6 660.9,276.6 653.4,271.4"/>
<polygon points="1109.5,150.5 1117,174.5 1124.5,180.9 1132,188.2 1139.4,196.8 1146.9,197.5 1154.4,202.6 1161.9,203.2 1169.4,210.7 1176.8,222.4 1184.3,227.1 1191.8,246.6 1199.3,256.1 1206.7,263.8 1214.2,293.2 1221.7,296.2 1229.2,296.2 1236.7,296.2 1244.1,315.2 1251.6,323.1 1259.1,324.4 1266.6,317.8 1274,317.8 1281.5,314.8 1289,312.2 1296.5,308.2 1304,317.8 1311.4,316.9 1318.9,306.9 1326.4,297.9 1333.9,294.9 1341.3,294.9 1348.8,291.9 1356.3,287.9 1363.8,287.6 1371.2,295.4 1378.7,310.2 1386.2,317.4 1393.7,317.4 1393.7,225.8 1386.2,225.8 1378.7,225.8 1371.2,225.8 1363.8,225.8 1356.3,225.8 1348.8,225.8 1341.3,225.8 1333.9,225.8 1326.4,225.8 1318.9,225.8 1311.4,225.8 1304,225.8 1296.5,225.8 1289,225.8 1281.5,225.8 1274,225.8 1266.6,225.8 1259.1,225.8 1251.6,225.8 1244.1,225.8 1236.7,225.8 1229.2,225.8 1221.7,225.8 1214.2,225.8 1206.7,205.8 1199.3,205.6 1191.8,197.8 1184.3,176.9 1176.8,176.9 1169.4,176.9 1161.9,176.9 1154.4,176.9 1146.9,171.1 1139.4,170.8 1132,160.5 1124.5,162.6 1117,163.1 1109.5,163.7"/>
</g>
<polyline fill="none" stroke="#62b25e" stroke-width="1.5" stroke-opacity="0.6" stroke-linejoin="round" points="-4.6,264.2 2.9,275.9 10.4,264.2 17.9,283.5 25.3,296.8 32.8,266.2 40.3,257.1 47.8,287.6 55.2,293.6 62.7,272.2 70.2,243.1 77.7,229 85.2,238.5 92.6,231 100.1,237.5 107.6,226.3 115.1,225 122.5,214.2 130,256.2 137.5,229.6 145,239.5 152.4,268.3 159.9,258.1 167.4,265.6 174.9,244 182.4,208.4 189.8,210.1 197.3,243.5 204.8,244.8 212.3,257.3 219.7,244 227.2,237.4 234.7,262.4 242.2,277.4 249.7,274.5 257.1,291.5 264.6,330.6 272.1,351.4 279.6,314 287,284.1 294.5,281.2 302,279.4 309.5,311.5 316.9,285.2 324.4,275.4 331.9,259 339.4,265.7 346.9,283.4 354.3,286.5 361.8,273.2 369.3,252.3 376.8,256.5 384.2,263.4 391.7,254.3 399.2,240.2 406.7,233.2 414.2,268.4 421.6,234 429.1,219.1 436.6,224.5 444.1,202.1 451.5,186.2 459,164.4 466.5,193.3 474,217.4 481.4,189.1 488.9,173.4 496.4,205.4 503.9,255.6 511.4,251.1 518.8,206.1 526.3,163.4 533.8,144.3 541.3,151.4 548.7,118.5 556.2,102.4 563.7,96.3 571.2,95.3 578.7,107.4 586.1,99.4 593.6,98.4 601.1,110.5 608.6,103.2 616,81.2 623.5,64.3 631,98.4 638.5,112.5 645.9,122.5 653.4,144.3 660.9,124.4 668.4,127.4 675.9,143.3 683.3,155 690.8,177.5 698.3,165.2 705.8,127.1 713.2,165.4 720.7,228.3 728.2,261.5 735.7,288.4 743.2,286.1 750.6,301.5 758.1,318.3 765.6,324.6 773.1,300.2 780.5,221.6 788,293.4 795.5,312.6 803,372.6 810.4,378.6 817.9,379.4 825.4,419.6 832.9,378.4 840.4,362.2 847.8,334.3 855.3,370.6 862.8,323.3 870.3,327.3 877.7,295.2 885.2,296.8 892.7,304.6 900.2,299.5 907.7,270 915.1,252.2 922.6,262.5 930.1,263.6 937.6,217.4 945,246.6 952.5,253.7 960,234.3 967.5,255.5 974.9,299.4 982.4,326.6 989.9,386.7 997.4,411.6 1004.9,392.3"/>
<path fill="none" stroke="#ea2a4e" stroke-width="3" d="M0,75.5C10,76.8 37.2,79.8 60,83C82.8,86.2 115,90.6 137,94.8C159,99 169,103.2 192,108C215,112.8 252,119.6 275,123.6C298,127.6 309.2,129.2 330,132C350.8,134.8 379.2,137.3 400,140.7C420.8,144.1 434,148.3 455,152.5C476,156.7 503.2,161.3 526,165.7C548.8,170 575.2,175.5 592,178.6C608.8,181.7 615.2,182.2 626.5,184.2C637.8,186.1 648.6,188.4 659.7,190.3C670.8,192.2 681.9,194.2 693,195.8C704.1,197.4 717.9,198.8 726.2,199.6C734.5,200.4 734.5,200.5 742.8,200.8C751.1,201.1 766.1,201.1 776,201.3C785.9,201.5 789.7,201.8 802,201.9C814.3,202 833.7,201.5 850,201.7C866.3,201.9 886.1,202.5 900,203.1C913.9,203.7 922.1,204.3 933.1,205.1C944.1,205.9 956.6,207.3 966.3,208.1C976,208.9 983,208.7 991.3,209.7C999.6,210.7 1006.5,212.6 1016.2,213.9C1025.9,215.2 1036.9,216.5 1049.5,217.7C1062.1,218.9 1078.6,220.2 1092,221C1105.4,221.8 1118.7,221.9 1130,222.3C1141.3,222.7 1151.7,223.1 1160,223.5C1168.3,223.9 1173.5,224.3 1180,225C1186.5,225.7 1195.8,227.1 1199,227.5"/>
<ellipse cx="1103" cy="220" rx="30.5" ry="16.5" fill="none" stroke="#0a2a9a" stroke-width="2.6"/>
</g>
<g clip-path="url(#cr)">
<polyline fill="none" stroke="#8c1fa2" stroke-width="1.6" stroke-linejoin="round" points="2.9,493.3 10.4,505.4 17.9,505.2 25.3,498.9 32.8,509.9 40.3,520.2 47.8,526.6 55.2,516.4 62.7,511.4 70.2,519.8 77.7,526.1 85.2,523.1 92.6,530.9 100.1,531.5 107.6,530.7 115.1,536.2 122.5,537.2 130,547.5 137.5,538.1 145,540.2 152.4,543.8 159.9,544.9 167.4,556.1 174.9,538 182.4,519.9 189.8,508.7 197.3,512.8 204.8,507.5 212.3,514.5 219.7,519 227.2,505.2 234.7,501.4 242.2,512.5 249.7,514.6 257.1,505.1 264.6,493.9 272.1,489 279.6,493.1 287,490.3 294.5,493.3 302,488.8 309.5,488.3 316.9,483.8 324.4,504.2 331.9,493.2 339.4,497.5 346.9,509 354.3,504.5 361.8,507.5 369.3,498 376.8,484.9 384.2,485.6 391.7,500.1 399.2,500.6 406.7,505.7 414.2,499.9 421.6,497 429.1,507.8 436.6,513.5 444.1,512.1 451.5,518.6 459,531.2 466.5,536.7 474,517.9 481.4,505.5 488.9,504.4 496.4,503.7 503.9,515.2 511.4,504.1 518.8,500.3 526.3,494.1 533.8,496.9 541.3,504.1 548.7,505.4 556.2,499.4 563.7,490.8 571.2,492.8 578.7,496.2 586.1,492.1 593.6,486 601.1,483.1 608.6,501.3 616,487.2 623.5,482 631,484.7 638.5,476.9 645.9,471.9 653.4,465.6 660.9,480.8 668.4,491.8 675.9,482.4 683.3,477.7 690.8,491.5 698.3,508.6 705.8,507 713.2,492.2 720.7,480.9 728.2,476.5 735.7,479.2 743.2,471.6 750.6,468.2 758.1,466.9 765.6,466.6 773.1,472.4 780.5,470.3 788,470 795.5,476.5 803,474.1 810.4,467.6 817.9,463 825.4,481 832.9,487.6 840.4,492.1 847.8,501.3 855.3,493.5 862.8,494.8 870.3,501.7 877.7,506.6 885.2,515.2 892.7,509.2 900.2,493.3 907.7,507.7 915.1,525.3 922.6,532.4 930.1,537.6 937.6,536.6 945,539.6 952.5,542.7 960,543.9 967.5,532 974.9,502.9 982.4,519.9 989.9,523.7 997.4,534 1004.9,534.9 1012.3,535.1 1019.8,541.5 1027.3,527.1 1034.8,521.9 1042.2,513.3 1049.7,521 1057.2,507.5 1064.7,508.5 1072.2,499.9 1079.6,500.3 1087.1,502.5 1094.6,500.9 1102.1,492.4 1109.5,487.6 1117,491.1 1124.5,491.5 1132,478.9 1139.4,489.4 1146.9,491.8 1154.4,486.3 1161.9,493.9 1169.4,507.5 1176.8,514.7 1184.3,527.9 1191.8,532.5 1199.3,525.6"/>
</g>
<g clip-path="url(#cs)">
<polyline fill="none" stroke="#f0662a" stroke-width="1.6" stroke-linejoin="round" points="-4.6,590 2.9,607 10.4,626.4 17.9,643.5 25.3,654.4 32.8,657.8 40.3,662 47.8,668 55.2,673.8 62.7,673.4 70.2,667.5 77.7,665.4 85.2,668.5 92.6,673.9 100.1,677 107.6,678.6 115.1,679 122.5,679.3 130,680 137.5,679.4 145,676.7 152.4,671.6 159.9,668 167.4,669.2 174.9,671.2 182.4,668.8 189.8,656.4 197.3,640.1 204.8,624.2 212.3,615.8 219.7,612.6 227.2,611.2 234.7,606.6 242.2,600.9 249.7,602 257.1,607.9 264.6,609.4 272.1,600.2 279.6,587.1 287,579.4 294.5,580 302,582.8 309.5,586 316.9,584.1 324.4,586.6 331.9,589.2 339.4,597.6 346.9,603.4 354.3,612.8 361.8,624 369.3,631.8 376.8,629.2 384.2,614.8 391.7,603.4 399.2,604.7 406.7,619.3 414.2,632.6 421.6,638.4 429.1,638.1 436.6,640.4 444.1,647.1 451.5,654.6 459,662 466.5,668.5 474,670.9 481.4,665.2 488.9,651.6 496.4,637 503.9,629.6 511.4,627.8 518.8,629.1 526.3,622.7 533.8,613.8 541.3,605.2 548.7,606 556.2,610 563.7,611.1 571.2,606.3 578.7,601.1 586.1,600 593.6,600.4 601.1,598.7 608.6,599.1 616,602.1 623.5,605.5 631,600.9 638.5,592 645.9,584 653.4,578.5 660.9,580 668.4,587.5 675.9,601.2 683.3,609.2 690.8,610.8 698.3,613.5 705.8,623.5 713.2,635.3 720.7,635.6 728.2,622.1 735.7,603.2 743.2,587.9 750.6,579.7 758.1,574.7 765.6,573.1 773.1,573.8 780.5,576.5 788,578.9 795.5,580.1 803,581 810.4,580.8 817.9,581.2 825.4,586.5 832.9,600 840.4,619 847.8,639.1 855.3,653.6 862.8,662.9 870.3,664.9 877.7,667.5 885.2,671.6 892.7,676.7 900.2,675 907.7,669.9 915.1,665.6 922.6,668.7 930.1,673.8 937.6,677.5 945,678 952.5,677.5 960,677.7 967.5,677.2 974.9,670.1 982.4,660.7 989.9,652.9 997.4,658.4 1004.9,667.5 1012.3,676.4 1019.8,678 1027.3,675.4 1034.8,668.8 1042.2,657.7 1049.7,648.7 1057.2,640.9 1064.7,637.7 1072.2,630.4 1079.6,623.9 1087.1,613.3 1094.6,603.7 1102.1,591.2 1109.5,581.6 1117,575.2 1124.5,574.8 1132,576.2 1139.4,579.7 1146.9,583.1 1154.4,588.5 1161.9,593.4 1169.4,602.9 1176.8,620.9 1184.3,645.7 1191.8,666.9 1199.3,676.2"/>
<polyline fill="none" stroke="#2a94f0" stroke-width="1.6" stroke-linejoin="round" points="-4.6,612 2.9,627 10.4,651.6 17.9,655.8 25.3,658.2 32.8,659.2 40.3,666.7 47.8,679.5 55.2,675.4 62.7,665.3 70.2,661.9 77.7,668.9 85.2,674.7 92.6,678.2 100.1,677.9 107.6,679.5 115.1,679.4 122.5,678.9 130,681.5 137.5,677.7 145,670.9 152.4,666.3 159.9,666.8 167.4,674.5 174.9,672.2 182.4,659.8 189.8,637.2 197.3,623.4 204.8,611.9 212.3,612.2 219.7,613.7 227.2,607.6 234.7,598.4 242.2,596.5 249.7,611 257.1,616.1 264.6,601.1 272.1,583.4 279.6,576.8 287,577.9 294.5,585.3 302,585.2 309.5,587.3 316.9,579.8 324.4,592.7 331.9,595 339.4,605.2 346.9,610 354.3,623.1 361.8,638.9 369.3,633.4 376.8,615.4 384.2,595.5 391.7,599.4 399.2,619.1 406.7,639.3 414.2,639.5 421.6,636.3 429.1,638.5 436.6,646.5 444.1,656.2 451.5,661.2 459,668.7 466.5,675.7 474,668.3 481.4,651.7 488.9,634.7 496.4,624.6 503.9,629.4 511.4,629.4 518.8,628.4 526.3,610.2 533.8,602.8 541.3,602.7 548.7,612.6 556.2,614.7 563.7,606 571.2,598.3 578.7,598.8 586.1,602.8 593.6,599.4 601.1,593.9 608.6,604.1 616,608.3 623.5,604.2 631,590.1 638.5,581.6 645.9,580.2 653.4,573.8 660.9,586.1 668.4,602.7 675.9,614.8 683.3,610.2 690.8,607.5 698.3,622.6 705.8,640.3 713.2,642.9 720.7,623.5 728.2,599.9 735.7,586.1 743.2,577.8 750.6,575.1 758.1,571.2 765.6,572.9 773.1,577.3 780.5,579.2 788,580.3 795.5,580.9 803,581.7 810.4,579.8 817.9,582.2 825.4,597.4 832.9,620.3 840.4,639.3 847.8,657.8 855.3,663.9 862.8,667 870.3,664 877.7,671.6 885.2,679.3 892.7,679.2 900.2,666.7 907.7,663.7 915.1,666.5 922.6,675.9 930.1,679 937.6,677.5 945,677.5 952.5,677.4 960,678.3 967.5,675.9 974.9,656 982.4,650.3 989.9,652.4 997.4,672.4 1004.9,677.6 1012.3,679.2 1019.8,677.3 1027.3,669.7 1034.8,659.3 1042.2,644.1 1049.7,642.7 1057.2,635.8 1064.7,634.5 1072.2,621 1079.6,616.3 1087.1,602.5 1094.6,592.2 1102.1,578.9 1109.5,573.6 1117,573 1124.5,577.9 1132,577.6 1139.4,583.5 1146.9,588.2 1154.4,593.9 1161.9,598.2 1169.4,616.5 1176.8,648 1184.3,672.5 1191.8,680.3 1199.3,675.9"/>
</g>
<rect x="0" y="454.5" width="1490" height="1.6" fill="#dcdfee"/>
<rect x="0" y="563.3" width="1490" height="1.6" fill="#dcdfee"/>
<rect x="0" y="0" width="1.1" height="728" fill="#dde0f1"/>
<path d="M0,0H4.6A4.6,4.6 0 0 0 0,4.6Z" fill="#dde0f1"/>
<rect x="1397" y="0" width="1" height="728" fill="#4d4d4d"/>
<rect x="1" y="687" width="1489" height="1" fill="#4d4d4d"/>
<path d="M1398,379H1487.5a2.5,2.5 0 0 1 2.5,2.5V403.5a2.5,2.5 0 0 1 -2.5,2.5H1398Z" fill="#35781f"/>
<g transform="translate(1446,708.4)" stroke="#141a2c" stroke-width="1.4" fill="none"><circle r="6.3"/><line x1="6.9" y1="0" x2="10" y2="0"/><line x1="4.9" y1="4.9" x2="7.1" y2="7.1"/><line x1="0" y1="6.9" x2="0" y2="10"/><line x1="-4.9" y1="4.9" x2="-7.1" y2="7.1"/><line x1="-6.9" y1="0" x2="-10" y2="0"/><line x1="-4.9" y1="-4.9" x2="-7.1" y2="-7.1"/><line x1="-0" y1="-6.9" x2="-0" y2="-10"/><line x1="4.9" y1="-4.9" x2="7.1" y2="-7.1"/></g>
</svg>
<svg width="1490" height="728" viewBox="0 0 1490 728" style="position:absolute;left:0;top:0" font-family="'Liberation Sans', 'DejaVu Sans', sans-serif">
<defs><clipPath id="cst"><rect x="1398" y="565" width="92" height="122"/></clipPath></defs>
<rect x="7" y="6" width="593" height="32" fill="#fff2cc" fill-opacity="0.5"/>
<rect x="612" y="6" width="496" height="32" fill="#fff2cc" fill-opacity="0.5"/>
<rect x="7" y="38" width="99" height="33" fill="#fff2cc" fill-opacity="0.5"/>
<rect x="7" y="71" width="156" height="33" fill="#fff2cc" fill-opacity="0.5"/>
<rect x="7" y="104" width="188" height="33" fill="#fff2cc" fill-opacity="0.5"/>
<rect x="7" y="137" width="388" height="33" fill="#fff2cc" fill-opacity="0.5"/>
<rect x="7" y="170" width="153" height="33" fill="#fff2cc" fill-opacity="0.5"/>
<rect x="7" y="203" width="144" height="33" fill="#fff2cc" fill-opacity="0.5"/>
<rect x="7" y="236" width="153" height="33" fill="#fff2cc" fill-opacity="0.5"/>
<rect x="7" y="269" width="180" height="33" fill="#fff2cc" fill-opacity="0.5"/>
<rect x="7" y="302" width="171" height="34" fill="#fff2cc" fill-opacity="0.5"/>
<rect x="7" y="462.5" width="161.7" height="32.2" fill="#fff2cc" fill-opacity="0.5"/>
<rect x="7" y="571.5" width="198.8" height="32.2" fill="#fff2cc" fill-opacity="0.5"/>
<circle cx="588" cy="22" r="11.9" fill="#dee8c8"/><circle cx="588" cy="22" r="5.7" fill="#0a9b82"/>
<g transform="translate(87.7,54.8)" fill="none" stroke="#16161e" stroke-width="1.35" stroke-linecap="round"><path d="M-10.6,0C-7.2,-5.4 -3.6,-7.7 0,-7.7C3.6,-7.7 7.2,-5.4 10.6,0C7.2,5.4 3.6,7.7 0,7.7C-3.6,7.7 -7.2,5.4 -10.6,0Z"/><circle r="4.1"/><path d="M-8.4,8.3L8.4,-8.3" stroke="#fff2cc" stroke-width="3.6" stroke-linecap="butt"/><path d="M-8.4,8.3L8.4,-8.3" stroke-width="1.5"/></g>
<g transform="translate(144.8,87.8)" fill="none" stroke="#16161e" stroke-width="1.35" stroke-linecap="round"><path d="M-10.6,0C-7.2,-5.4 -3.6,-7.7 0,-7.7C3.6,-7.7 7.2,-5.4 10.6,0C7.2,5.4 3.6,7.7 0,7.7C-3.6,7.7 -7.2,5.4 -10.6,0Z"/><circle r="4.1"/><path d="M-8.4,8.3L8.4,-8.3" stroke="#fff2cc" stroke-width="3.6" stroke-linecap="butt"/><path d="M-8.4,8.3L8.4,-8.3" stroke-width="1.5"/></g>
<g transform="translate(141.5,187)" fill="none" stroke="#16161e" stroke-width="1.35" stroke-linecap="round"><path d="M-10.6,0C-7.2,-5.4 -3.6,-7.7 0,-7.7C3.6,-7.7 7.2,-5.4 10.6,0C7.2,5.4 3.6,7.7 0,7.7C-3.6,7.7 -7.2,5.4 -10.6,0Z"/><circle r="4.1"/><path d="M-8.4,8.3L8.4,-8.3" stroke="#fff2cc" stroke-width="3.6" stroke-linecap="butt"/><path d="M-8.4,8.3L8.4,-8.3" stroke-width="1.5"/></g>
<g transform="translate(132.5,220)" fill="none" stroke="#16161e" stroke-width="1.35" stroke-linecap="round"><path d="M-10.6,0C-7.2,-5.4 -3.6,-7.7 0,-7.7C3.6,-7.7 7.2,-5.4 10.6,0C7.2,5.4 3.6,7.7 0,7.7C-3.6,7.7 -7.2,5.4 -10.6,0Z"/><circle r="4.1"/><path d="M-8.4,8.3L8.4,-8.3" stroke="#fff2cc" stroke-width="3.6" stroke-linecap="butt"/><path d="M-8.4,8.3L8.4,-8.3" stroke-width="1.5"/></g>
<g transform="translate(141.5,253)" fill="none" stroke="#16161e" stroke-width="1.35" stroke-linecap="round"><path d="M-10.6,0C-7.2,-5.4 -3.6,-7.7 0,-7.7C3.6,-7.7 7.2,-5.4 10.6,0C7.2,5.4 3.6,7.7 0,7.7C-3.6,7.7 -7.2,5.4 -10.6,0Z"/><circle r="4.1"/><path d="M-8.4,8.3L8.4,-8.3" stroke="#fff2cc" stroke-width="3.6" stroke-linecap="butt"/><path d="M-8.4,8.3L8.4,-8.3" stroke-width="1.5"/></g>
<rect x="14.5" y="338.5" width="39" height="28" rx="4" fill="#fff2cc" fill-opacity="0.6" stroke="#cdd2ea" stroke-width="1"/>
<path d="M28,356.2L34,350.4L40,356.2" fill="none" stroke="#16161e" stroke-width="1.7"/>
<path d="M1448.3,17.2L1451.4,20.2L1454.5,17.2" fill="none" stroke="#101014" stroke-width="1.7"/>
<text transform="translate(14.72,29.8) scale(0.984,1)" font-size="22.5" fill="#141414" stroke="#141414" stroke-width="0.45" stroke-linejoin="round">Australian Dollar</text>
<text transform="translate(186.22,29.8) scale(0.766,1)" font-size="22.5" fill="#141414" stroke="#141414" stroke-width="0.45" stroke-linejoin="round">/</text>
<text transform="translate(202.62,29.8) scale(0.929,1)" font-size="22.5" fill="#141414" stroke="#141414" stroke-width="0.45" stroke-linejoin="round">U.S.</text>
<text transform="translate(250.18,29.8) scale(0.990,1)" font-size="22.5" fill="#141414" stroke="#141414" stroke-width="0.45" stroke-linejoin="round">Dollar</text>
<text transform="translate(312.95,29.8) scale(1.057,1)" font-size="22.5" fill="#b4bad6" stroke="#b4bad6" stroke-width="0.5" stroke-linejoin="round">·</text>
<text transform="translate(325.62,29.8) scale(0.856,1)" font-size="22.5" fill="#141414" stroke="#141414" stroke-width="0.45" stroke-linejoin="round">1D</text>
<text transform="translate(354.85,29.8) scale(1.057,1)" font-size="22.5" fill="#b4bad6" stroke="#b4bad6" stroke-width="0.5" stroke-linejoin="round">·</text>
<text transform="translate(366.86,29.8) scale(0.833,1)" font-size="22.5" fill="#141414" stroke="#141414" stroke-width="0.45" stroke-linejoin="round">FXCM</text>
<text transform="translate(423.65,29.8) scale(1.057,1)" font-size="22.5" fill="#b4bad6" stroke="#b4bad6" stroke-width="0.5" stroke-linejoin="round">·</text>
<text transform="translate(436.49,29.8) scale(0.946,1)" font-size="22.5" fill="#141414" stroke="#141414" stroke-width="0.45" stroke-linejoin="round">TradingView</text>
<text transform="translate(622.68,29.7) scale(0.827,1)" font-size="18" fill="#141414" stroke="#141414" stroke-width="0.36" stroke-linejoin="round">O</text>
<text transform="translate(635.84,29.7) scale(0.967,1)" font-size="18" fill="#18492f" stroke="#18492f" stroke-width="0.36" stroke-linejoin="round">0.68686</text>
<text transform="translate(707.21,29.7) scale(0.903,1)" font-size="18" fill="#141414" stroke="#141414" stroke-width="0.36" stroke-linejoin="round">H</text>
<text transform="translate(720.04,29.7) scale(0.954,1)" font-size="18" fill="#18492f" stroke="#18492f" stroke-width="0.36" stroke-linejoin="round">0.69182</text>
<text transform="translate(791.34,29.7) scale(0.814,1)" font-size="18" fill="#141414" stroke="#141414" stroke-width="0.36" stroke-linejoin="round">L</text>
<text transform="translate(801.54,29.7) scale(0.959,1)" font-size="18" fill="#18492f" stroke="#18492f" stroke-width="0.36" stroke-linejoin="round">0.68664</text>
<text transform="translate(872.75,29.7) scale(0.749,1)" font-size="18" fill="#141414" stroke="#141414" stroke-width="0.36" stroke-linejoin="round">C</text>
<text transform="translate(884.84,29.7) scale(0.957,1)" font-size="18" fill="#18492f" stroke="#18492f" stroke-width="0.36" stroke-linejoin="round">0.69076</text>
<text transform="translate(956.49,29.7) scale(0.939,1)" font-size="18" fill="#18492f" stroke="#18492f" stroke-width="0.36" stroke-linejoin="round">+0.00390</text>
<text transform="translate(1034.21,29.7) scale(0.913,1)" font-size="18" fill="#18492f" stroke="#18492f" stroke-width="0.36" stroke-linejoin="round">(+0.57%)</text>
<text transform="translate(14.67,61) scale(1.007,1)" font-size="17" fill="#aeb4cb" stroke="#aeb4cb" stroke-width="0.34" stroke-linejoin="round">Vol 20</text>
<text transform="translate(13.32,94.6) scale(1.014,1)" font-size="17" fill="#aeb4cb" stroke="#aeb4cb" stroke-width="0.34" stroke-linejoin="round">BB 20 close 2</text>
<text transform="translate(13.34,127.8) scale(1.000,1)" font-size="17" fill="#141414" stroke="#141414" stroke-width="0.34" stroke-linejoin="round">MA 200 close</text>
<text transform="translate(127.85,127.9) scale(0.947,1)" font-size="17.8" fill="#ee2036" stroke="#ee2036" stroke-width="0.36" stroke-linejoin="round">0.72431</text>
<text transform="translate(13.89,160.7) scale(1.040,1)" font-size="17" fill="#141414" stroke="#141414" stroke-width="0.34" stroke-linejoin="round">Ichimoku 9 26 52 26</text>
<text transform="translate(184.34,160.7) scale(0.962,1)" font-size="17.8" fill="#3f9142" stroke="#3f9142" stroke-width="0.36" stroke-linejoin="round">0.69076</text>
<text transform="translate(255.24,160.7) scale(0.970,1)" font-size="17.8" fill="#0a820a" stroke="#0a820a" stroke-width="0.36" stroke-linejoin="round">0.70612</text>
<text transform="translate(326.24,160.7) scale(0.965,1)" font-size="17.8" fill="#ff0a0a" stroke="#ff0a0a" stroke-width="0.36" stroke-linejoin="round">0.72450</text>
<text transform="translate(13.26,193.4) scale(0.989,1)" font-size="17" fill="#aeb4cb" stroke="#aeb4cb" stroke-width="0.34" stroke-linejoin="round">EMA 55 close</text>
<text transform="translate(13.23,226.6) scale(1.007,1)" font-size="17" fill="#aeb4cb" stroke="#aeb4cb" stroke-width="0.34" stroke-linejoin="round">MA 20 close</text>
<text transform="translate(13.26,259.3) scale(0.989,1)" font-size="17" fill="#aeb4cb" stroke="#aeb4cb" stroke-width="0.34" stroke-linejoin="round">EMA 55 close</text>
<text transform="translate(13.33,292.5) scale(1.007,1)" font-size="17" fill="#141414" stroke="#141414" stroke-width="0.34" stroke-linejoin="round">MA 50 close</text>
<text transform="translate(118.39,292.5) scale(0.969,1)" font-size="17.8" fill="#1848b5" stroke="#1848b5" stroke-width="0.36" stroke-linejoin="round">0.71530</text>
<text transform="translate(13.33,325) scale(1.007,1)" font-size="17" fill="#141414" stroke="#141414" stroke-width="0.34" stroke-linejoin="round">MA 5 close</text>
<text transform="translate(109.14,325) scale(0.969,1)" font-size="17.8" fill="#1848b5" stroke="#1848b5" stroke-width="0.36" stroke-linejoin="round">0.69670</text>
<text transform="translate(13.36,485.2) scale(0.984,1)" font-size="17" fill="#141414" stroke="#141414" stroke-width="0.34" stroke-linejoin="round">RSI 14 close</text>
<text transform="translate(120.04,485.2) scale(0.969,1)" font-size="17.8" fill="#8e1fa5" stroke="#8e1fa5" stroke-width="0.36" stroke-linejoin="round">36.39</text>
<text transform="translate(13.73,593.2) scale(1.021,1)" font-size="17" fill="#141414" stroke="#141414" stroke-width="0.34" stroke-linejoin="round">Stoch 14 3 3</text>
<text transform="translate(122.54,593.2) scale(1.002,1)" font-size="17.8" fill="#2196f3" stroke="#2196f3" stroke-width="0.36" stroke-linejoin="round">6.64</text>
<text transform="translate(165.45,593.2) scale(0.993,1)" font-size="17.8" fill="#ff6d00" stroke="#ff6d00" stroke-width="0.36" stroke-linejoin="round">6.53</text>
<text transform="translate(1410.62,26.8) scale(0.796,1)" font-size="19.6" fill="#0a0f1f" stroke="#0a0f1f" stroke-width="0.39" stroke-linejoin="round">USD</text>
<text transform="translate(1412.41,59.9) scale(0.979,1)" font-size="19" fill="#141414" stroke="#141414" stroke-width="0.38" stroke-linejoin="round">0.76000</text>
<text transform="translate(1412.41,108.9) scale(0.979,1)" font-size="19" fill="#141414" stroke="#141414" stroke-width="0.38" stroke-linejoin="round">0.75000</text>
<text transform="translate(1412.41,157.9) scale(0.979,1)" font-size="19" fill="#141414" stroke="#141414" stroke-width="0.38" stroke-linejoin="round">0.74000</text>
<text transform="translate(1412.41,206.9) scale(0.979,1)" font-size="19" fill="#141414" stroke="#141414" stroke-width="0.38" stroke-linejoin="round">0.73000</text>
<text transform="translate(1412.41,255.9) scale(0.979,1)" font-size="19" fill="#141414" stroke="#141414" stroke-width="0.38" stroke-linejoin="round">0.72000</text>
<text transform="translate(1412.41,304.9) scale(0.979,1)" font-size="19" fill="#141414" stroke="#141414" stroke-width="0.38" stroke-linejoin="round">0.71000</text>
<text transform="translate(1412.41,353.9) scale(0.979,1)" font-size="19" fill="#141414" stroke="#141414" stroke-width="0.38" stroke-linejoin="round">0.70000</text>
<text transform="translate(1412.41,451.9) scale(0.979,1)" font-size="19" fill="#141414" stroke="#141414" stroke-width="0.38" stroke-linejoin="round">0.68000</text>
<text transform="translate(1412.66,398.6) scale(0.951,1)" font-size="19.7" fill="#ffffff" stroke="#ffffff" stroke-width="0.7" stroke-linejoin="round">0.69076</text>
<text transform="translate(1412.71,507.1) scale(0.979,1)" font-size="19" fill="#141414" stroke="#141414" stroke-width="0.38" stroke-linejoin="round">50.00</text>
<g clip-path="url(#cst)"><text transform="translate(1412.12,575.1) scale(0.989,1)" font-size="19" fill="#141414" stroke="#141414" stroke-width="0.38" stroke-linejoin="round">100.00</text></g>
<text transform="translate(1412.71,632.6) scale(0.979,1)" font-size="19" fill="#141414" stroke="#141414" stroke-width="0.38" stroke-linejoin="round">50.00</text>
<g clip-path="url(#cst)"><text transform="translate(1412.71,690.1) scale(0.981,1)" font-size="19" fill="#141414" stroke="#141414" stroke-width="0.38" stroke-linejoin="round">0.00</text></g>
<text transform="translate(136.21,714.6) scale(0.929,1)" font-size="19" fill="#141414" stroke="#141414" stroke-width="0.38" stroke-linejoin="round">Dec</text>
<text transform="translate(302.18,714.6) scale(1.036,1)" font-size="19" fill="#141414" font-weight="bold">2022</text>
<text transform="translate(465.24,714.6) scale(0.978,1)" font-size="19" fill="#141414" stroke="#141414" stroke-width="0.38" stroke-linejoin="round">Feb</text>
<text transform="translate(614.23,714.6) scale(0.983,1)" font-size="19" fill="#141414" stroke="#141414" stroke-width="0.38" stroke-linejoin="round">Mar</text>
<text transform="translate(788.96,714.6) scale(0.951,1)" font-size="19" fill="#141414" stroke="#141414" stroke-width="0.38" stroke-linejoin="round">Apr</text>
<text transform="translate(942.28,714.6) scale(0.948,1)" font-size="19" fill="#141414" stroke="#141414" stroke-width="0.38" stroke-linejoin="round">May</text>
<text transform="translate(1109.89,714.6) scale(0.978,1)" font-size="19" fill="#141414" stroke="#141414" stroke-width="0.38" stroke-linejoin="round">Jun</text>
<text transform="translate(1277.39,714.6) scale(0.995,1)" font-size="19" fill="#141414" stroke="#141414" stroke-width="0.38" stroke-linejoin="round">Jul</text>
<text transform="translate(1136.45,125.9) scale(0.989,1)" font-size="22.4" fill="#0d0d0d" font-style="italic" stroke="#0d0d0d" stroke-width="0.8" stroke-linejoin="round">Death Cross</text>
<text transform="translate(1225.23,387.8) scale(0.959,1)" font-size="22.4" fill="#0d0d0d" stroke="#0d0d0d" stroke-width="0.8" stroke-linejoin="round">Snaps 5-day</text>
<text transform="translate(1224.45,409.4) scale(1.037,1)" font-size="22.4" fill="#0d0d0d" stroke="#0d0d0d" stroke-width="0.8" stroke-linejoin="round">bearish streak</text>
<text transform="translate(1218.76,497.8) scale(0.979,1)" font-size="22.4" fill="#1d0b33" font-style="italic" stroke="#1d0b33" stroke-width="0.8" stroke-linejoin="round">RSI is below</text>
<text transform="translate(1219.17,519.4) scale(1.048,1)" font-size="22.4" fill="#1d0b33" font-style="italic" stroke="#1d0b33" stroke-width="0.8" stroke-linejoin="round">the 50 mark</text>
<text transform="translate(1210.55,625.5) scale(1.002,1)" font-size="22.4" fill="#1d0b33" font-style="italic" stroke="#1d0b33" stroke-width="0.8" stroke-linejoin="round">Momentum</text>
<text transform="translate(1211.1,647.7) scale(1.043,1)" font-size="22.4" fill="#1d0b33" font-style="italic" stroke="#1d0b33" stroke-width="0.8" stroke-linejoin="round">bearish</text>
</svg>
</body></html>
